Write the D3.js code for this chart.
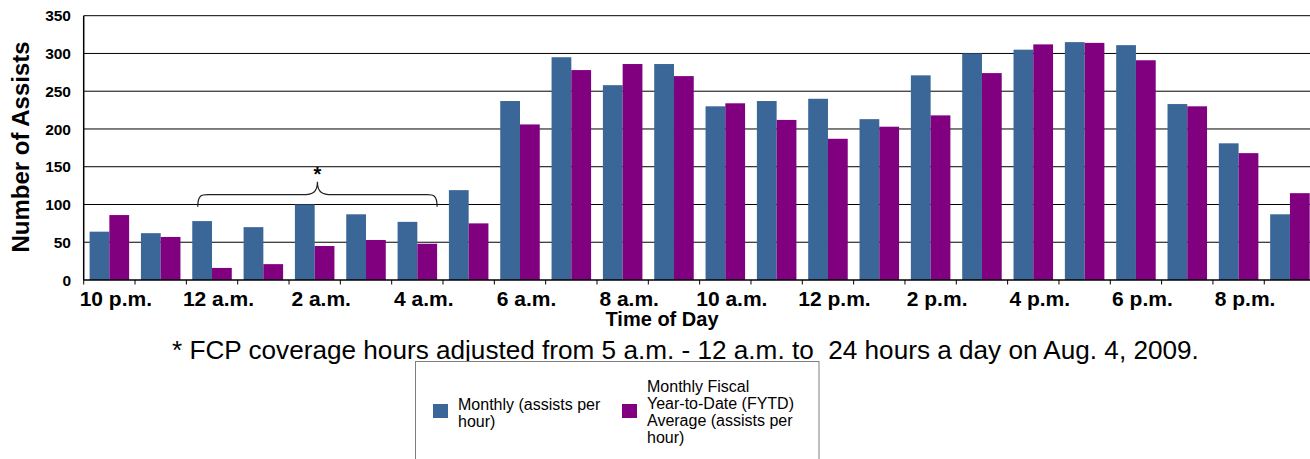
<!DOCTYPE html>
<html>
<head>
<meta charset="utf-8">
<script src="https://cdn.jsdelivr.net/npm/d3@7"></script>
<style>
  html, body { margin: 0; padding: 0; background: #fff; }
  svg { display: block; font-family: Arial, "Liberation Sans", sans-serif; }
</style>
</head>
<body>
<svg id="chart" width="1310" height="459"></svg>
<script>
// ---- Data ----
const categories = ["10 p.m.", "11 p.m.", "12 a.m.", "1 a.m.", "2 a.m.", "3 a.m.", "4 a.m.", "5 a.m.",
  "6 a.m.", "7 a.m.", "8 a.m.", "9 a.m.", "10 a.m.", "11 a.m.", "12 p.m.", "1 p.m.",
  "2 p.m.", "3 p.m.", "4 p.m.", "5 p.m.", "6 p.m.", "7 p.m.", "8 p.m.", "9 p.m."];
const tickLabels = ["10 p.m.", "12 a.m.", "2 a.m.", "4 a.m.", "6 a.m.", "8 a.m.", "10 a.m.",
  "12 p.m.", "2 p.m.", "4 p.m.", "6 p.m.", "8 p.m."];
const monthly = [64, 62, 78, 70, 100, 87, 77, 119, 237, 295, 258, 286, 230, 237, 240, 213,
  271, 300, 305, 315, 311, 233, 181, 87];
const fytd = [86, 57, 16, 21, 45, 53, 48, 75, 206, 278, 286, 270, 234, 212, 187, 203,
  218, 274, 312, 314, 291, 230, 168, 115];
const yTicks = [0, 50, 100, 150, 200, 250, 300, 350];
const seriesNames = ["Monthly (assists per hour)", "Monthly Fiscal Year-to-Date (FYTD) Average (assists per hour)"];
const seriesColors = ["#3A6698", "#800080"];
const bracketCats = ["12 a.m.", "4 a.m."];
const footnote = "* FCP coverage hours adjusted from 5 a.m. - 12 a.m. to  24 hours a day on Aug. 4, 2009.";

const rows = categories.map((c, i) => ({ cat: c, values: [monthly[i], fytd[i]] }));

// ---- Layout ----
const svg = d3.select("#chart");
const pLeft = 83.7, pTop = 15.7, pBottom = 280, pRight = 1315.6;

const x0 = d3.scaleBand().domain(categories).range([pLeft, pRight])
  .paddingInner(0.23).paddingOuter(0.115);
const x1 = d3.scaleBand().domain([0, 1]).range([0, x0.bandwidth()]);
const y = d3.scaleLinear().domain([0, 350]).range([pBottom, pTop]);
const step = x0.step();

// gridlines
svg.append("g").selectAll("line").data(yTicks.filter(d => d > 0)).join("line")
  .attr("x1", pLeft).attr("x2", 1310)
  .attr("y1", d => y(d)).attr("y2", d => y(d))
  .attr("stroke", "#000").attr("stroke-width", 1);

// bars
const groups = svg.append("g").selectAll("g").data(rows).join("g")
  .attr("transform", d => `translate(${x0(d.cat)},0)`);
groups.selectAll("rect").data(d => d.values.map((v, k) => ({ v, k }))).join("rect")
  .attr("x", d => x1(d.k)).attr("width", x1.bandwidth())
  .attr("y", d => y(d.v)).attr("height", d => y(0) - y(d.v))
  .attr("fill", d => seriesColors[d.k]);

// axes lines
svg.append("line").attr("x1", pLeft).attr("x2", pLeft).attr("y1", pTop).attr("y2", pBottom)
  .attr("stroke", "#000").attr("stroke-width", 1.5);
svg.append("line").attr("x1", pLeft).attr("x2", 1310).attr("y1", pBottom).attr("y2", pBottom)
  .attr("stroke", "#000").attr("stroke-width", 1.5);

// x ticks at category boundaries
svg.append("g").selectAll("line").data(d3.range(0, categories.length + 1)).join("line")
  .attr("x1", i => pLeft + i * step).attr("x2", i => pLeft + i * step)
  .attr("y1", pBottom).attr("y2", pBottom + 4.5)
  .attr("stroke", "#000").attr("stroke-width", 1);

// x tick labels
svg.append("g").selectAll("text").data(tickLabels).join("text")
  .attr("x", d => x0(d) + x0.bandwidth() / 2 + 6.5)
  .attr("y", 306)
  .attr("text-anchor", "middle")
  .attr("font-size", 21).attr("font-weight", "bold").attr("fill", "#000")
  .text(d => d);

// y tick labels
svg.append("g").selectAll("text").data(yTicks).join("text")
  .attr("x", 71).attr("y", d => y(d)).attr("dy", "0.36em")
  .attr("text-anchor", "end")
  .attr("font-size", 15.5).attr("font-weight", "bold").attr("fill", "#000")
  .text(d => d);

// axis titles
svg.append("text")
  .attr("transform", `translate(29,147) rotate(-90)`)
  .attr("text-anchor", "middle")
  .attr("font-size", 24).attr("font-weight", "bold").text("Number of Assists");
svg.append("text")
  .attr("x", 662).attr("y", 326)
  .attr("text-anchor", "middle")
  .attr("font-size", 20).attr("font-weight", "bold").text("Time of Day");

// brace annotation
const bx0 = x0(bracketCats[0]) + 5.5;
const bx1 = x0(bracketCats[1]) + x0.bandwidth();
const bmid = (bx0 + bx1) / 2;
const yEnd = y(97), yArm = y(113), yTip = y(130);
const r = 10;
const bracePath = `M${bx0},${yEnd} C${bx0},${yArm} ${bx0 + 4},${yArm} ${bx0 + r},${yArm}
  L${bmid - 15},${yArm} C${bmid - 4},${yArm} ${bmid},${yArm - 3} ${bmid},${yTip}
  C${bmid},${yArm - 3} ${bmid + 4},${yArm} ${bmid + 15},${yArm}
  L${bx1 - r},${yArm} C${bx1 - 4},${yArm} ${bx1},${yArm} ${bx1},${yEnd}`;
svg.append("path").attr("d", bracePath).attr("fill", "none")
  .attr("stroke", "#222").attr("stroke-width", 1.2);
svg.append("text").attr("x", bmid).attr("y", yTip - 1)
  .attr("text-anchor", "middle").attr("font-size", 20).attr("font-weight", "bold")
  .text("*");

// footnote
svg.append("text").attr("x", 172).attr("y", 358.5)
  .attr("font-size", 26.15).attr("fill", "#000")
  .style("white-space", "pre")
  .text(footnote);

// legend
const lg = svg.append("g");
lg.append("rect").attr("x", 415.5).attr("y", 361.5).attr("width", 403.5).attr("height", 120)
  .attr("fill", "#fff").attr("stroke", "#7f7f7f").attr("stroke-width", 1);
const legendLines = [
  ["Monthly (assists per", "hour)"],
  ["Monthly Fiscal", "Year-to-Date (FYTD)", "Average (assists per", "hour)"]
];
const legendX = [433, 622];
const legendTextX = [458, 647];
const legendFirstBaseline = [410, 391.7];
legendLines.forEach((lines, k) => {
  lg.append("rect").attr("x", legendX[k]).attr("y", 404).attr("width", 15).attr("height", 14)
    .attr("fill", seriesColors[k]);
  const t = lg.append("text").attr("font-size", 16).attr("fill", "#000");
  lines.forEach((ln, j) => {
    t.append("tspan").attr("x", legendTextX[k]).attr("y", legendFirstBaseline[k] + j * 17).text(ln);
  });
});
</script>
</body>
</html>
